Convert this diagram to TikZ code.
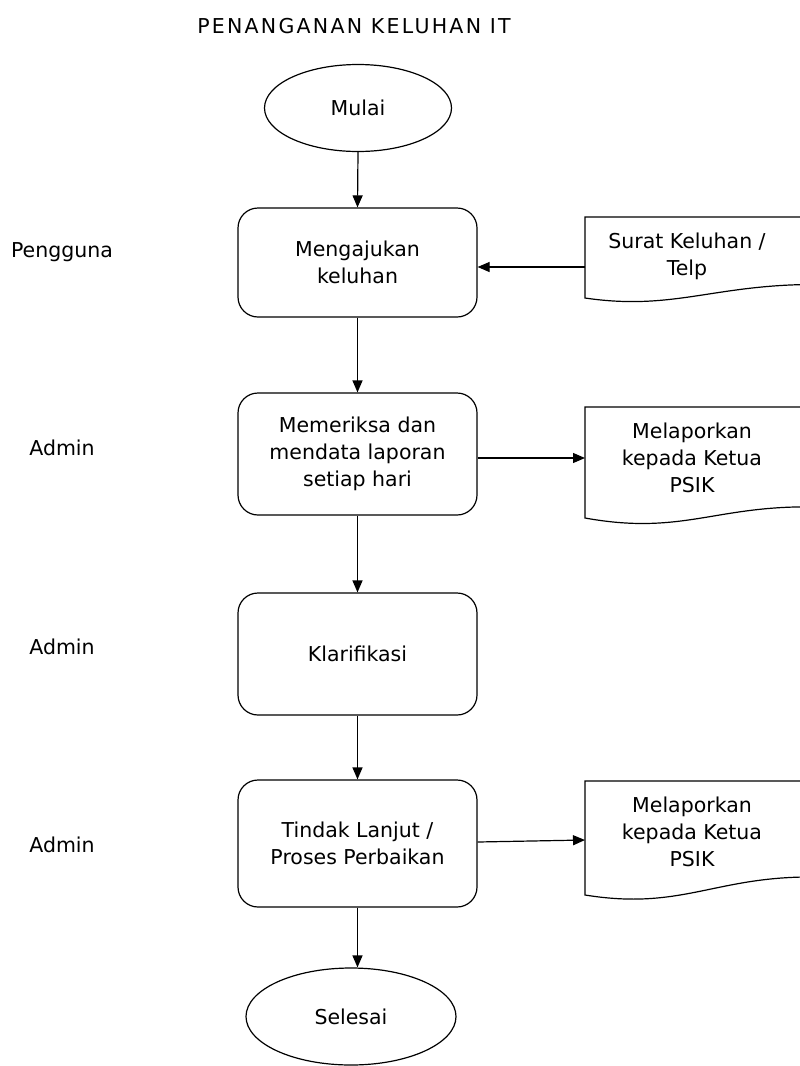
\documentclass[tikz,border=0pt]{standalone}
\usepackage{fontspec}
\setmainfont{DejaVu Sans}
\usetikzlibrary{shapes.geometric,arrows.meta}
\begin{document}
\begin{tikzpicture}[x=1pt,y=-1pt,
  every node/.style={font=\fontsize{20.5}{27}\selectfont,text=black},
  line/.style={draw=black,line width=1.2pt},
  arr/.style={line,-{Triangle[length=12pt,width=10pt]}},
  proc/.style={line,rounded corners=20pt,minimum width=239pt,align=center,inner sep=0pt},
  term/.style={line,ellipse,inner sep=0pt},
  doctext/.style={align=center,inner sep=0pt},
  lbl/.style={inner sep=0pt}]
\useasboundingbox (0,0) rectangle (800,1066);
\node[inner sep=0pt,font=\fontsize{20.5}{27}\selectfont\addfontfeatures{LetterSpace=11}] (title) at (354,26) {PENANGANAN KELUHAN IT};

\node[term,minimum width=187pt,minimum height=87pt] (mulai) at (358,108) {Mulai};
\node[proc,minimum height=109pt] (b1) at (357.5,262.5) {Mengajukan\\keluhan};
\node[proc,minimum height=122pt] (b2) at (357.5,454) {Memeriksa dan\\mendata laporan\\setiap hari};
\node[proc,minimum height=122pt] (b3) at (357.5,654) {Klarifikasi};
\node[proc,minimum height=127pt] (b4) at (357.5,843.5) {Tindak Lanjut /\\Proses Perbaikan};
\node[term,minimum width=210pt,minimum height=97pt] (selesai) at (351,1016.5) {Selesai};

\node[lbl] (l1) at (62,252) {Pengguna};
\node[lbl] (l2) at (62,448) {Admin};
\node[lbl] (l3) at (62,647) {Admin};
\node[lbl] (l4) at (62,845) {Admin};

% documents
\draw[line] (585,217) -- (840,217) -- (840,285) .. controls (720,280) and (680,312) .. (585,298) -- cycle;
\node[doctext] (d1) at (687,256) {Surat Keluhan /\\Telp};
\coordinate (d1w) at (585,267);

\draw[line] (585,407) -- (840,407) -- (840,508) .. controls (720,500) and (690,537) .. (585,518) -- cycle;
\node[doctext] (d2) at (692,458) {Melaporkan\\kepada Ketua\\PSIK};
\coordinate (d2w) at (585,458);

\draw[line] (585,781) -- (840,781) -- (840,878) .. controls (720,870) and (690,912) .. (585,895) -- cycle;
\node[doctext] (d3) at (692,832) {Melaporkan\\kepada Ketua\\PSIK};
\coordinate (d3w) at (585,840);

\draw[arr] (mulai.south) -- (b1.north);
\draw[arr] (b1.south) -- (b2.north);
\draw[arr] (b2.south) -- (b3.north);
\draw[arr] (b3.south) -- (b4.north);
\draw[arr] (b4.south) -- (selesai.north -| b4.south);
\draw[arr] (d1w) -- (b1.east |- d1w);
\draw[arr] (b2.east |- d2w) -- (d2w);
\draw[arr] (b4.east) ++(0,-1.5) -- (d3w);
\end{tikzpicture}
\end{document}
